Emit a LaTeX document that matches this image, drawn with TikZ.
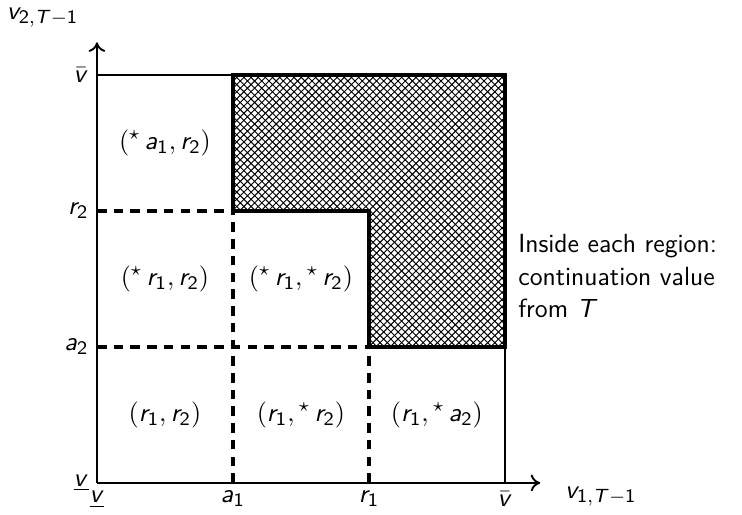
\documentclass[tikz,border=0pt]{standalone}
\usepackage{tikz}
\usetikzlibrary{arrows.meta,patterns}
\renewcommand{\familydefault}{\sfdefault}
% sans letters and digits in math
\DeclareSymbolFont{sfletters}{OT1}{cmss}{m}{sl}
\DeclareSymbolFont{sfdigits}{OT1}{cmss}{m}{n}
\DeclareMathSymbol{v}{\mathalpha}{sfletters}{`v}
\DeclareMathSymbol{a}{\mathalpha}{sfletters}{`a}
\DeclareMathSymbol{r}{\mathalpha}{sfletters}{`r}
\DeclareMathSymbol{T}{\mathalpha}{sfletters}{`T}
\DeclareMathSymbol{1}{\mathalpha}{sfdigits}{`1}
\DeclareMathSymbol{2}{\mathalpha}{sfdigits}{`2}
\newcommand{\st}{{}^\star\,}

\begin{document}
\begin{tikzpicture}[
  x=2cm, y=2cm,
  every node/.style={font=\fontsize{11pt}{13.6pt}\selectfont},
  axisline/.style={thick, -{To[length=4pt,width=7pt]}},
  boxline/.style={thick},
  gridline/.style={line width=1.6pt, dash pattern=on 4pt off 3pt},
  stopregion/.style={line width=1.8pt, pattern=crosshatch, line join=miter},
]
\useasboundingbox (-0.713,-0.235) rectangle (4.743,3.551);

% --- Corners ---
\coordinate (O) at (0,0);
\coordinate (xend) at (3.26,0);
\coordinate (yend) at (0,3.24);
\coordinate (vbarx) at (3,0);
\coordinate (vbary) at (0,3);
\coordinate (top) at (3,3);

% --- Stopping region ---
\draw[stopregion] (1,3) -- (top) -- (3,1) -- (2,1) -- (2,2) -- (1,2) -- cycle;

% --- Thresholds ---
\draw[gridline] (0,2) -- (1,2);
\draw[gridline] (0,1) -- (2,1);
\draw[gridline] (1,0) -- (1,2);
\draw[gridline] (2,0) -- (2,1);

% --- Box and axes ---
\draw[boxline] (vbary) -- (top) -- (vbarx);
\draw[axisline] (O) -- (xend);
\draw[axisline] (O) -- (yend);

% --- Axis labels ---
\node (ylabel) at (-0.4,3.42) {$v_{2,T-1}$};
\node[right] (xlabel) at (3.38,-0.1) {$v_{1,T-1}$};

% --- Ticks ---
\node[left] (vbarl) at (vbary) {$\bar{v}$};
\node[left] (r2l) at (0,2) {$r_2$};
\node[left] (a2l) at (0,1) {$a_2$};
\node[left] (vlowy) at (O) {$\underline{v}$};
\node[below] (vlowx) at (O) {$\underline{v}$};
\node[below] (a1l) at (1,0) {$a_1$};
\node[below] (r1l) at (2,0) {$r_1$};
\node[below] (vbarb) at (vbarx) {$\bar{v}$};

% --- Regions ---
\node (astr) at (0.5,2.5) {$(\st a_1, r_2)$};
\node (rsr) at (0.5,1.5) {$(\st r_1, r_2)$};
\node (rsrs) at (1.5,1.5) {$(\st r_1,\st r_2)$};
\node (rr) at (0.5,0.5) {$(r_1, r_2)$};
\node (rrs) at (1.5,0.5) {$(r_1,\st r_2)$};
\node (ras) at (2.5,0.5) {$(r_1,\st a_2)$};

\node[right, align=left, inner sep=2pt] (note) at (3.06,1.52)
  {Inside each region:\\continuation value\\from $T$};

\end{tikzpicture}
\end{document}
